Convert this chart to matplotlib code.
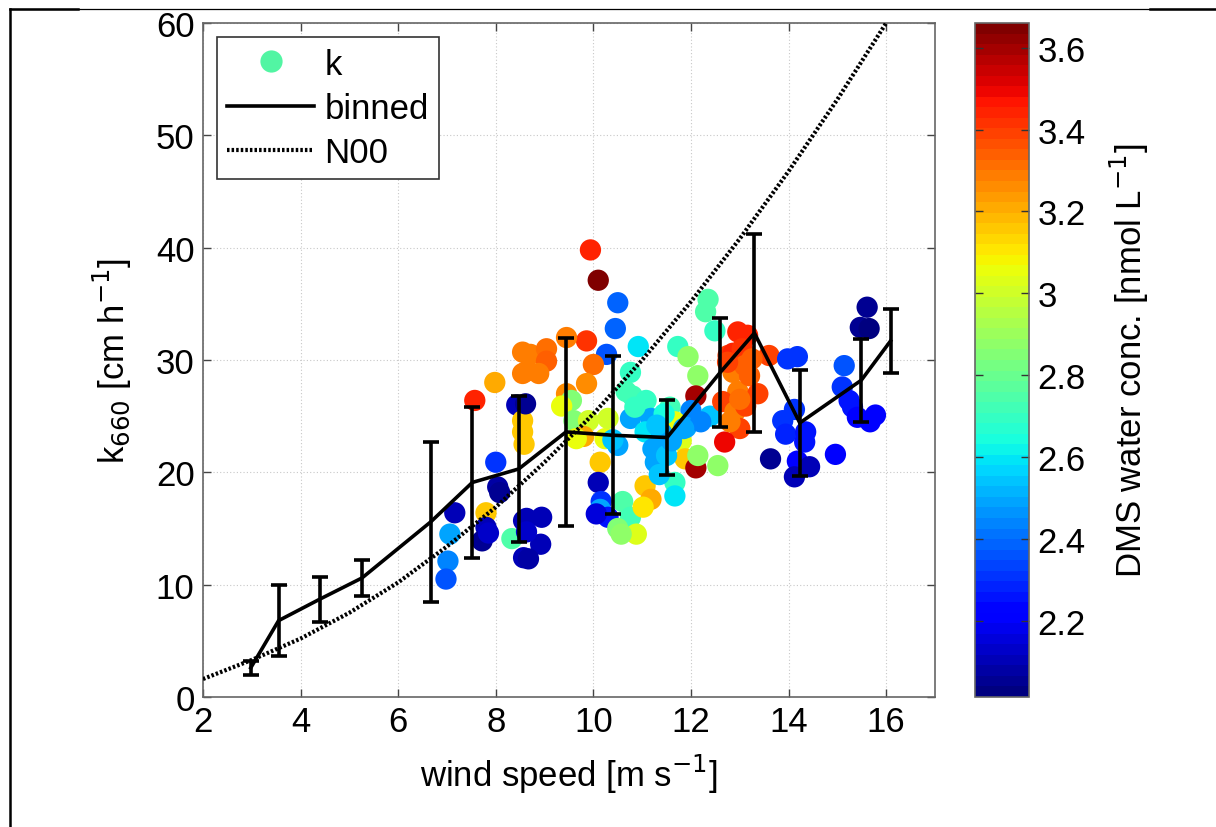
import matplotlib
matplotlib.use("Agg")
import matplotlib.pyplot as plt
from matplotlib.lines import Line2D
from matplotlib.colors import Normalize

plt.rcParams["font.family"] = ["Liberation Sans", "DejaVu Sans"]

# individual transfer velocity estimates: wind speed, k660, DMS water concentration
wind = [7.16, 7.06, 7.02, 6.98, 7.57, 7.98, 8.43, 8.00, 8.04, 8.08,
        7.80, 7.80, 7.72, 7.85, 8.33, 8.55, 8.55, 8.58, 8.57, 8.57,
        8.55, 8.55, 9.94, 10.10, 10.50, 10.45, 10.27, 10.92, 9.86, 9.45,
        10.00, 9.86, 8.71, 9.04, 9.04, 8.88, 8.63, 9.45, 9.55, 9.35,
        9.60, 9.90, 9.80, 9.65, 10.24, 10.30, 10.50, 10.76, 10.76, 10.80,
        10.14, 10.10, 10.16, 10.14, 10.30, 10.06, 10.60, 10.76, 10.50, 10.88,
        10.57, 11.06, 11.18, 11.02, 8.63, 8.94, 8.92, 8.67, 8.63, 8.61,
        12.35, 12.30, 12.49, 11.73, 11.94, 12.14, 12.10, 11.08, 11.57, 11.18,
        12.00, 12.39, 11.67, 11.80, 11.06, 11.22, 11.27, 11.88, 12.10, 12.55,
        11.67, 11.67, 12.14, 12.96, 13.16, 12.76, 12.86, 12.96, 12.65, 12.90,
        13.00, 12.69, 13.20, 13.12, 13.60, 13.37, 13.98, 14.18, 14.12, 13.88,
        13.94, 14.35, 14.33, 13.63, 14.18, 14.43, 14.12, 14.96, 15.14, 15.10,
        15.24, 15.31, 15.41, 15.67, 15.78, 15.61, 15.47, 15.65, 10.67, 12.86,
        13.05, 13.10, 12.80, 13.00, 11.40, 11.50, 11.35, 11.60, 11.90, 12.20,
        11.45, 10.85, 12.75, 13.25, 11.30, 11.85, 10.40]
k660 = [16.4, 14.5, 12.1, 10.5, 26.4, 28.0, 26.0, 20.9, 18.7, 18.2,
        16.4, 15.1, 13.9, 14.6, 14.1, 24.6, 23.6, 22.5, 15.7, 12.4,
        30.7, 28.8, 39.8, 37.1, 35.1, 32.8, 30.5, 31.2, 31.7, 32.0,
        29.6, 27.9, 30.5, 31.0, 29.9, 28.8, 29.0, 27.0, 26.4, 25.9,
        24.6, 24.6, 23.2, 23.0, 23.0, 24.8, 22.4, 24.8, 28.9, 26.8,
        20.9, 19.1, 17.4, 16.7, 16.0, 16.3, 17.4, 16.0, 15.0, 14.5,
        14.5, 18.8, 17.6, 16.9, 15.9, 16.0, 13.6, 12.3, 14.7, 26.1,
        35.4, 34.3, 32.6, 31.2, 30.3, 28.6, 26.8, 26.4, 25.8, 24.8,
        25.5, 25.0, 24.5, 22.8, 23.6, 22.1, 20.9, 21.2, 20.4, 20.6,
        19.1, 17.9, 21.5, 32.5, 32.2, 30.4, 28.9, 27.2, 26.3, 25.4,
        23.9, 22.7, 28.6, 25.9, 30.4, 27.0, 30.1, 30.3, 25.6, 24.6,
        23.4, 23.6, 22.7, 21.2, 21.0, 20.5, 19.6, 21.6, 29.5, 27.6,
        26.4, 25.8, 24.9, 24.5, 25.1, 34.7, 32.9, 32.8, 27.2, 30.6,
        31.0, 29.5, 24.5, 26.5, 23.5, 21.5, 19.8, 22.8, 24.0, 24.5,
        25.2, 25.8, 29.8, 30.1, 24.2, 23.9, 22.9]
dms = [2.10, 2.50, 2.45, 2.35, 3.45, 3.20, 2.10, 2.30, 2.08, 2.06,
       3.15, 2.10, 2.05, 2.12, 2.75, 3.15, 3.15, 3.15, 2.10, 2.10,
       3.30, 3.30, 3.45, 3.65, 2.40, 2.40, 2.35, 2.60, 3.42, 3.30,
       3.32, 3.25, 3.30, 3.32, 3.35, 3.30, 3.30, 3.25, 2.85, 3.05,
       2.85, 3.00, 3.20, 3.05, 3.05, 3.00, 2.50, 2.50, 2.70, 2.72,
       3.15, 2.10, 2.30, 2.50, 2.25, 2.15, 2.75, 2.72, 2.85, 3.02,
       2.88, 3.15, 3.20, 3.10, 2.10, 2.10, 2.10, 2.08, 2.12, 2.05,
       2.75, 2.75, 2.70, 2.70, 2.88, 2.88, 3.60, 2.70, 2.72, 2.50,
       2.45, 2.55, 3.05, 3.02, 2.60, 2.50, 2.50, 3.15, 3.60, 2.88,
       2.70, 2.60, 2.88, 3.45, 3.45, 3.40, 3.30, 3.28, 3.40, 3.30,
       3.40, 3.50, 3.35, 3.38, 3.38, 3.40, 2.30, 2.30, 2.30, 2.30,
       2.28, 2.25, 2.25, 2.05, 2.20, 2.10, 2.10, 2.20, 2.35, 2.30,
       2.25, 2.25, 2.20, 2.20, 2.20, 2.05, 2.05, 2.02, 2.72, 3.45,
       3.42, 3.35, 3.30, 3.32, 2.50, 2.55, 2.55, 2.48, 2.50, 2.45,
       2.65, 2.70, 3.40, 3.35, 2.55, 2.50, 2.55]

# bin means with standard deviation
bin_wind = [2.98, 3.55, 4.39, 5.26, 6.67, 7.52, 8.47, 9.44, 10.40,
            11.51, 12.60, 13.30, 14.23, 15.49, 16.09]
bin_k = [2.6, 6.8, 8.7, 10.6, 15.6, 19.1, 20.3, 23.6, 23.3,
         23.1, 28.9, 32.4, 24.4, 28.2, 31.7]
bin_sd = [0.6, 3.15, 2.0, 1.6, 7.1, 6.7, 6.5, 8.4, 7.05,
          3.35, 4.85, 8.8, 4.75, 3.7, 2.85]

# Nightingale et al. (2000) parameterisation
n00_wind = [2, 3, 4, 5, 6, 7, 8, 9, 10, 11, 12, 13, 14, 15, 16, 16.5]
n00_k = [1.6, 3.3, 5.2, 7.5, 10.2, 13.4, 16.9, 20.9, 25.2, 30.0,
         35.2, 40.8, 46.8, 53.2, 60.0, 63.6]

FS = 25
fig = plt.figure(figsize=(12.16, 8.28), dpi=100)
ax = fig.add_axes([0.1669, 0.157, 0.602, 0.814])
cax = fig.add_axes([0.8018, 0.157, 0.0444, 0.814])

cmap = plt.get_cmap("jet", 64)
norm = Normalize(vmin=2.015, vmax=3.66)

ax.grid(True, color="#c8c8c8", linestyle=(0, (1, 2)), linewidth=0.8)
ax.set_axisbelow(True)
sc = ax.scatter(wind, k660, c=dms, cmap=cmap, norm=norm, s=235,
                linewidths=0, zorder=2)
ax.plot(n00_wind, n00_k, color="black", lw=3.0, linestyle=(0, (0.6, 0.5)),
        zorder=3)
ax.errorbar(bin_wind, bin_k, yerr=bin_sd, color="black", lw=2.6,
            elinewidth=2.6, capsize=6, capthick=2.6, zorder=4)

ax.set_xlim(2, 17)
ax.set_ylim(0, 60)
ax.set_xticks(range(2, 17, 2))
ax.set_yticks(range(0, 61, 10))
ax.tick_params(direction="in", length=6, width=1, top=True, right=True,
               labelsize=FS, colors="#444444", labelcolor="black", pad=6)
for sp in ax.spines.values():
    sp.set_color("#666666")
    sp.set_linewidth(1.2)
ax.set_xlabel("wind speed [m s$^{-1}$]", fontsize=FS, labelpad=10)
ax.set_ylabel("k$_{660}$ [cm h$^{-1}$]", fontsize=FS, labelpad=16)

handles = [
    Line2D([], [], marker="o", color="none", markerfacecolor="#52f5a3",
           markeredgecolor="none", markersize=16),
    Line2D([], [], color="black", lw=2.6),
    Line2D([], [], color="black", lw=3.0, linestyle=(0, (0.6, 0.5))),
]
leg = ax.legend(handles, ["k", "binned", "N00"], loc="upper left",
                bbox_to_anchor=(0.019, 0.979), borderaxespad=0,
                fontsize=FS, fancybox=False, framealpha=1,
                edgecolor="#333333", handlelength=2.5, handletextpad=0.3,
                labelspacing=0.32, borderpad=0.3)
leg.get_frame().set_linewidth(1.2)

cb = fig.colorbar(sc, cax=cax)
cb.set_ticks([2.2, 2.4, 2.6, 2.8, 3.0, 3.2, 3.4, 3.6])
cb.set_ticklabels(["2.2", "2.4", "2.6", "2.8", "3", "3.2", "3.4", "3.6"])
cax.tick_params(direction="in", length=6, width=1, left=True, right=True,
                labelsize=FS, colors="#333333", labelcolor="black", pad=6)
cb.outline.set_edgecolor("#666666")
cb.outline.set_linewidth(1.2)
cb.set_label("DMS water conc. [nmol L$^{-1}$]", fontsize=FS, labelpad=16)

# page frame lines
fig.add_artist(Line2D([10 / 1216, 1], [1 - 10 / 828, 1 - 10 / 828],
                      transform=fig.transFigure, color="black", lw=0.9))
fig.add_artist(Line2D([10 / 1216, 78 / 1216], [1 - 10 / 828, 1 - 10 / 828],
                      transform=fig.transFigure, color="black", lw=1.8))
fig.add_artist(Line2D([1150 / 1216, 1], [1 - 10 / 828, 1 - 10 / 828],
                      transform=fig.transFigure, color="black", lw=1.8))
fig.add_artist(Line2D([10 / 1216, 10 / 1216], [0, 1 - 10 / 828],
                      transform=fig.transFigure, color="black", lw=1.8))

fig.savefig("out.png", dpi=100)
